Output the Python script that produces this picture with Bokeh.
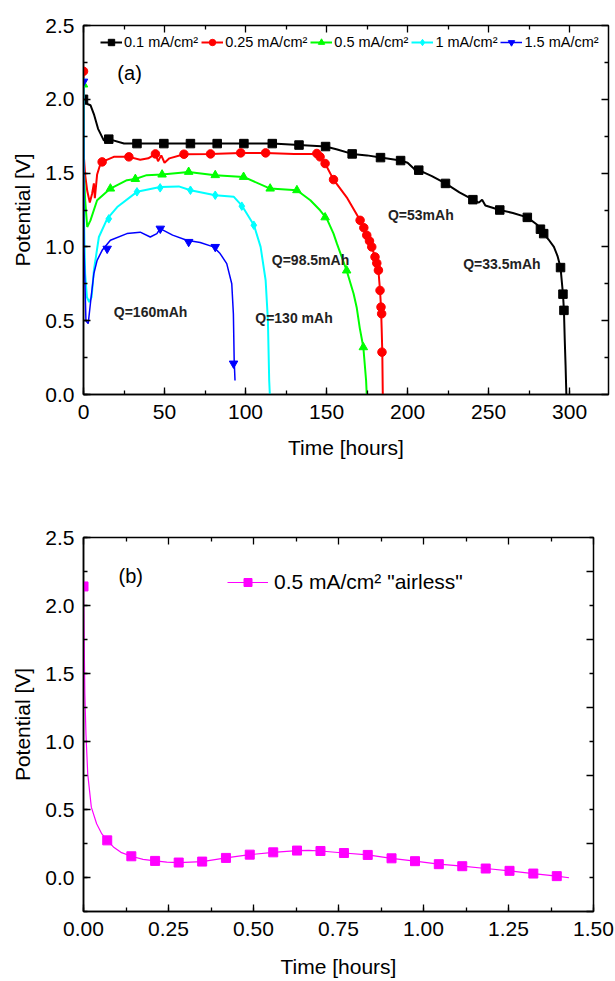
import numpy as np
from bokeh.plotting import figure
from bokeh.models import (Range1d, LinearAxis, SingleIntervalTicker, FixedTicker,
                          NumeralTickFormatter, Legend, LegendItem, Label)
from bokeh.layouts import column
from bokeh.embed import file_html
from bokeh.resources import INLINE

FONT = "Liberation Sans"

# ---------------- data, panel (a) ----------------
series_labels = ["0.1 mA/cm²", "0.25 mA/cm²", "0.5 mA/cm²", "1 mA/cm²", "1.5 mA/cm²"]

black_t = [0, 0.5, 2, 4.3, 6.4, 9, 12.6, 15.6, 25, 33, 49.6, 66, 82.5, 99, 116.5, 133, 149.4,
           156.6, 165.8, 175, 183.3, 195.7, 200, 204, 205.5, 206.9, 215, 223.4, 232, 240.3, 244,
           246, 248, 256.9, 265, 273.9, 280, 284, 287, 290.3, 292.5, 294.4, 295.9, 296.5, 297,
           297.5, 298]
black_v = [2.0, 1.97, 1.97, 1.96, 1.90, 1.80, 1.72, 1.73, 1.70, 1.70, 1.70, 1.70, 1.70, 1.70,
           1.70, 1.69, 1.68, 1.66, 1.63, 1.62, 1.605, 1.585, 1.57, 1.53, 1.50, 1.52, 1.48, 1.43,
           1.37, 1.32, 1.30, 1.32, 1.28, 1.25, 1.23, 1.20, 1.15, 1.09, 1.05, 1.00, 0.94, 0.86,
           0.68, 0.57, 0.37, 0.2, 0.0]
black_mt = [0, 15.6, 33, 49.6, 66, 82.5, 99, 116.5, 133, 149.4, 165.8, 183.3, 195.7, 206.9,
            223.4, 240.3, 256.9, 273.9, 282, 284, 294.4, 295.9, 296.5]
black_mv = [2.0, 1.73, 1.70, 1.70, 1.70, 1.70, 1.70, 1.70, 1.69, 1.68, 1.63, 1.605, 1.585, 1.52,
            1.43, 1.32, 1.25, 1.20, 1.12, 1.09, 0.86, 0.68, 0.57]

red_t = [0, 0.3, 1, 2.3, 3.9, 5.3, 6.4, 7.0, 8.4, 10.5, 11.5, 18.7, 28, 35, 40, 44.4, 46, 48, 50,
         53, 62, 78.4, 97, 112.4, 130, 142, 144, 146, 149.1, 154.3, 162.8, 170.7, 174.8, 177.9,
         179.9, 182.0, 183.0, 183.6, 184.0, 184.4, 184.7]
red_v = [2.19, 1.60, 1.49, 1.38, 1.30, 1.36, 1.43, 1.33, 1.49, 1.565, 1.576, 1.61, 1.61, 1.59,
         1.60, 1.63, 1.58, 1.62, 1.57, 1.60, 1.628, 1.63, 1.637, 1.637, 1.63, 1.63, 1.633, 1.61,
         1.565, 1.456, 1.33, 1.18, 1.079, 1.0, 0.932, 0.842, 0.705, 0.592, 0.45, 0.287, 0.0]
red_mt = [0, 11.5, 28, 44.4, 62, 78.4, 97, 112.4, 144, 146, 149.1, 154.3, 170.7, 173, 174.8,
          176.5, 177.9, 179.9, 181, 182.0, 183.0, 183.6, 184.0, 184.2]
red_mv = [2.19, 1.576, 1.61, 1.63, 1.628, 1.63, 1.637, 1.637, 1.633, 1.61, 1.565, 1.456, 1.18,
          1.13, 1.079, 1.04, 1.0, 0.932, 0.89, 0.842, 0.705, 0.592, 0.547, 0.287]

green_t = [0, 0.3, 1, 2.3, 4.3, 8.4, 16.6, 26.8, 32, 39, 48.5, 64.9, 81.3, 98.8, 115.2, 131.7,
           140, 146.0, 150.2, 154.3, 156.4, 162.4, 166.7, 168.6, 170.5, 172.7, 174.4, 174.8]
green_v = [2.10, 1.50, 1.32, 1.135, 1.18, 1.316, 1.395, 1.452, 1.46, 1.486, 1.49, 1.508, 1.486,
           1.474, 1.395, 1.384, 1.316, 1.248, 1.19, 1.09, 1.022, 0.84, 0.683, 0.59, 0.45, 0.32,
           0.095, 0.0]
green_mt = [0, 16.6, 32, 48.5, 64.9, 81.3, 98.8, 115.2, 131.7, 149.1, 162.4, 172.7]
green_mv = [2.10, 1.395, 1.46, 1.49, 1.508, 1.486, 1.474, 1.395, 1.384, 1.20, 0.84, 0.32]

cyan_t = [0, 0.3, 1, 2.1, 3.5, 5, 6.4, 9.5, 14.6, 20.8, 33, 47.3, 58.8, 66, 81.3, 92.8, 98,
          105.2, 109.3, 112.4, 113.8, 114.6, 115]
cyan_v = [2.12, 1.20, 0.82, 0.66, 0.627, 0.66, 0.84, 1.067, 1.19, 1.27, 1.373, 1.406, 1.41,
          1.384, 1.35, 1.339, 1.276, 1.147, 1.0, 0.774, 0.503, 0.095, 0.0]
cyan_mt = [0, 15.6, 33, 47.3, 66, 81.3, 97.7, 105.1]
cyan_mv = [2.12, 1.19, 1.373, 1.40, 1.384, 1.35, 1.276, 1.147]

blue_t = [0, 0.3, 1.5, 2.9, 4.5, 6.4, 8.4, 11.5, 16.6, 26.8, 35, 41.2, 45.3, 47.3, 55, 63.7, 72,
          80.2, 84.3, 88.4, 91.5, 92.5, 93, 93.5]
blue_v = [2.12, 1.0, 0.50, 0.48, 0.64, 0.82, 0.909, 0.977, 1.045, 1.09, 1.10, 1.067, 1.09, 1.124,
          1.08, 1.045, 1.03, 1.0, 0.955, 0.887, 0.75, 0.547, 0.23, 0.095]
blue_mt = [0, 14.6, 47.4, 64.9, 81.3, 92.6]
blue_mv = [2.12, 0.988, 1.124, 1.034, 1.0, 0.21]

colors = ["#000000", "#FF0000", "#00FF00", "#00FFFF", "#0000FF"]
markers = ["square", "circle", "triangle", "diamond", "inverted_triangle"]

# ---------------- data, panel (b) ----------------
b_label = "0.5 mA/cm² \"airless\""
b_t = [0, 0.002, 0.004, 0.0073, 0.0125, 0.023, 0.0386, 0.054, 0.0698, 0.09, 0.11, 0.1407, 0.175,
       0.2106, 0.245, 0.280, 0.349, 0.419, 0.489, 0.558, 0.628, 0.663, 0.697, 0.766, 0.836,
       0.906, 0.975, 1.045, 1.114, 1.183, 1.253, 1.323, 1.392, 1.428]
b_v = [2.14, 1.75, 1.35, 1.05, 0.76, 0.517, 0.395, 0.32, 0.273, 0.22, 0.185, 0.156, 0.133, 0.122,
       0.113, 0.110, 0.117, 0.144, 0.168, 0.185, 0.198, 0.199, 0.195, 0.180, 0.166, 0.141, 0.120,
       0.098, 0.083, 0.066, 0.049, 0.029, 0.010, -0.002]
b_mt = [0, 0.0698, 0.1407, 0.2106, 0.280, 0.349, 0.419, 0.489, 0.558, 0.628, 0.697, 0.766, 0.836,
        0.906, 0.975, 1.045, 1.114, 1.183, 1.253, 1.323, 1.392]
b_mv = [2.14, 0.273, 0.156, 0.122, 0.110, 0.117, 0.144, 0.168, 0.185, 0.198, 0.195, 0.180, 0.166,
        0.141, 0.120, 0.098, 0.083, 0.066, 0.049, 0.029, 0.010]

TICK_FS = "21px"
LABEL_FS = "21px"


def mirror(p, side, start, stop, interval):
    majors = [float(v) for v in np.arange(start, stop + 1e-9, interval)]
    minors = [float(v) for v in np.arange(start + interval / 2, stop + 1e-9, interval)]
    for ticks, ln in ((majors, 7), (minors, 4)):
        ax = LinearAxis(ticker=FixedTicker(ticks=[], minor_ticks=ticks))
        ax.axis_line_color = None
        ax.minor_tick_line_width = 1.3
        ax.minor_tick_in = ln
        ax.minor_tick_out = 0
        ax.major_tick_in = 0
        ax.major_tick_out = 0
        ax.major_label_standoff = 0
        ax.axis_label_standoff = 0
        p.add_layout(ax, side)


def style(p, xint, yint, xfmt, yfmt, xr, yr, xlab_standoff):
    xa = p.below[0]
    ya = p.left[0]
    xa.ticker = SingleIntervalTicker(interval=xint, num_minor_ticks=2)
    ya.ticker = SingleIntervalTicker(interval=yint, num_minor_ticks=2)
    xa.formatter = NumeralTickFormatter(format=xfmt)
    ya.formatter = NumeralTickFormatter(format=yfmt)
    xa.axis_label = "Time [hours]"
    ya.axis_label = "Potential [V]"
    for ax in (xa, ya):
        ax.axis_line_width = 1.5
        ax.major_tick_line_width = 1.3
        ax.minor_tick_line_width = 1.3
        ax.major_tick_in = 7
        ax.major_tick_out = 0
        ax.minor_tick_in = 4
        ax.minor_tick_out = 0
        ax.major_label_text_font = FONT
        ax.major_label_text_font_size = TICK_FS
        ax.major_label_text_color = "black"
        ax.axis_label_text_font = FONT
        ax.axis_label_text_font_size = LABEL_FS
        ax.axis_label_text_font_style = "normal"
        ax.axis_label_text_color = "black"
    xa.major_label_standoff = 10
    ya.major_label_standoff = 9
    xa.axis_label_standoff = xlab_standoff
    ya.axis_label_standoff = 8
    mirror(p, "above", xr[0], xr[1], xint)
    mirror(p, "right", yr[0], yr[1], yint)
    p.outline_line_color = "black"
    p.outline_line_width = 1.5
    p.grid.visible = False
    p.background_fill_color = "white"
    p.border_fill_color = "white"


# ---------------- panel (a) ----------------
pa = figure(frame_width=525, frame_height=369, min_border_left=83, min_border_right=7,
            min_border_top=25, min_border_bottom=76, output_backend="svg",
            toolbar_location=None, x_range=Range1d(0, 324), y_range=Range1d(0, 2.5))
style(pa, 50, 0.5, "0", "0.0", (0, 324), (0, 2.5), 14)

all_t = [black_t, red_t, green_t, cyan_t, blue_t]
all_v = [black_v, red_v, green_v, cyan_v, blue_v]
all_mt = [black_mt, red_mt, green_mt, cyan_mt, blue_mt]
all_mv = [black_mv, red_mv, green_mv, cyan_mv, blue_mv]
widths = [2, 2, 2, 2, 1.5]
items = []
for lab, t, v, mt, mv, c, m, w in zip(series_labels, all_t, all_v, all_mt, all_mv, colors, markers, widths):
    r1 = pa.line(t, v, line_color=c, line_width=w)
    r2 = pa.scatter(mt, mv, marker=m, size=8.5, fill_color=c, line_color=c)
    items.append(LegendItem(label=lab, renderers=[r1, r2]))

leg_a = Legend(items=items, orientation="horizontal", location=(17, 344),
               label_text_font=FONT, label_text_font_size="14.5px", label_text_color="black",
               glyph_width=22, glyph_height=16, label_height=16, label_standoff=2,
               spacing=3, padding=0, margin=0, border_line_color=None,
               background_fill_alpha=0)
pa.add_layout(leg_a, "center")

pa.add_layout(Label(x=20.9, y=2.18, text="(a)", text_font=FONT, text_font_size="20px",
                    text_baseline="middle", text_align="left", text_color="black"))
q_texts = [("Q=53mAh", 187.9, 1.214), ("Q=33.5mAh", 234.3, 0.887), ("Q=98.5mAh", 116.2, 0.914),
           ("Q=130 mAh", 106.0, 0.520), ("Q=160mAh", 18.7, 0.558)]
for txt, x, y in q_texts:
    pa.add_layout(Label(x=x, y=y, text=txt, text_font=FONT, text_font_size="14px",
                        text_font_style="bold", text_baseline="middle", text_align="left",
                        text_color="#222222"))

# ---------------- panel (b) ----------------
pb = figure(frame_width=510, frame_height=374, min_border_left=83, min_border_right=22,
            min_border_top=67, min_border_bottom=69, output_backend="svg",
            toolbar_location=None, x_range=Range1d(0, 1.5), y_range=Range1d(-0.25, 2.5))
style(pb, 0.25, 0.5, "0.00", "0.0", (0, 1.5), (-0.25, 2.5), 16)
rb1 = pb.line(b_t, b_v, line_color="#FF00FF", line_width=1.2)
rb2 = pb.scatter(b_mt, b_mv, marker="square", size=9, fill_color="#FF00FF", line_color="#FF00FF")
leg_b = Legend(items=[LegendItem(label=b_label, renderers=[rb1, rb2])], location=(144, 317),
               label_text_font=FONT, label_text_font_size="21px", label_text_color="black",
               glyph_width=41, glyph_height=20, label_height=20, label_standoff=6,
               padding=0, margin=0, border_line_color=None, background_fill_alpha=0)
pb.add_layout(leg_b, "center")
pb.add_layout(Label(x=0.103, y=2.218, text="(b)", text_font=FONT, text_font_size="20px",
                    text_baseline="middle", text_align="left", text_color="black"))

layout = column(pa, pb, spacing=0)
open("out.html", "w").write(file_html(layout, INLINE))
